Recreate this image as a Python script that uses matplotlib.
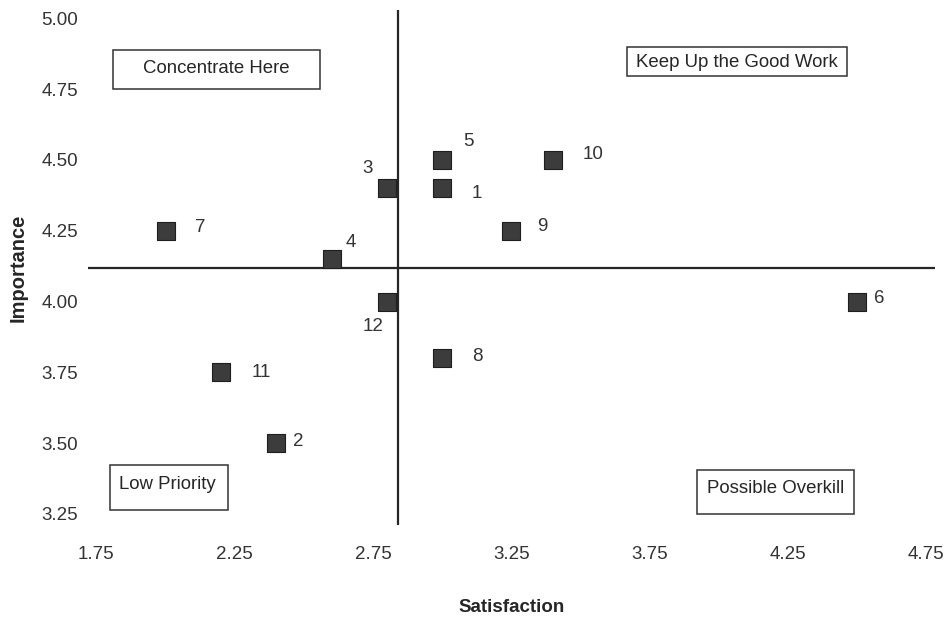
import matplotlib.pyplot as plt
from matplotlib.patches import Rectangle

plt.rcParams['font.family'] = ['Liberation Sans', 'DejaVu Sans']

# data
items = ["1", "2", "3", "4", "5", "6", "7", "8", "9", "10", "11", "12"]
satisfaction = [3.0, 2.4, 2.8, 2.6, 3.0, 4.5, 2.0, 3.0, 3.25, 3.4, 2.2, 2.8]
importance = [4.4, 3.5, 4.4, 4.15, 4.5, 4.0, 4.25, 3.8, 4.25, 4.5, 3.75, 4.0]
sat_split = 2.84
imp_split = 4.12
xticks = [1.75, 2.25, 2.75, 3.25, 3.75, 4.25, 4.75]
yticks = [3.25, 3.50, 3.75, 4.00, 4.25, 4.50, 4.75, 5.00]
quadrant_names = ["Concentrate Here", "Keep Up the Good Work", "Low Priority", "Possible Overkill"]

# label offsets in points (layout only)
offsets = {"1": (25, -4), "2": (16, 1), "3": (-14, 14), "4": (14, 12),
           "5": (19, 13), "6": (16, 2), "7": (25, 2), "8": (25, 1),
           "9": (22, 3), "10": (29, 4), "11": (29, 0), "12": (-10, -18)}

# quadrant boxes: (x0, x1, y0, y1) and text anchor
box_pos = [(1.810, 2.558, 4.751, 4.889, 2.182, 4.822),
           (3.667, 4.462, 4.797, 4.899, 4.065, 4.846),
           (1.800, 2.226, 3.263, 3.422, 2.005, 3.355),
           (3.920, 4.487, 3.249, 3.404, 4.206, 3.341)]

fig = plt.figure(figsize=(9.47, 6.2), dpi=100)
ax = fig.add_axes([0.093, 0.153, 0.894, 0.831])

ax.axvline(sat_split, color='#262626', lw=1.6, zorder=1)
ax.axhline(imp_split, color='#262626', lw=1.6, zorder=1)

ax.scatter(satisfaction, importance, marker='s', s=150, color='#3c3c3c',
           edgecolors='#1e1e1e', linewidths=0.8, zorder=3)

for name, x, y in zip(items, satisfaction, importance):
    ax.annotate(name, (x, y), xytext=offsets[name], textcoords='offset points',
                ha='center', va='center', fontsize=13.5, color='#333333')

for name, (x0, x1, y0, y1, tx, ty) in zip(quadrant_names, box_pos):
    ax.add_patch(Rectangle((x0, y0), x1 - x0, y1 - y0, fill=False,
                           ec='#333333', lw=1.1, zorder=2))
    ax.text(tx, ty, name, ha='center', va='center', fontsize=13.4, color='#262626')

ax.set_xlim(1.72, 4.78)
ax.set_ylim(3.21, 5.03)
ax.set_xticks(xticks)
ax.set_xticklabels([f"{t:.2f}" for t in xticks])
ax.set_yticks(yticks)
ax.set_yticklabels([f"{t:.2f}" for t in yticks])
ax.tick_params(axis='both', length=0, labelsize=13.5, colors='#333333')
ax.tick_params(axis='x', pad=15)
ax.tick_params(axis='y', pad=7)
for s in ax.spines.values():
    s.set_visible(False)

ax.set_xlabel("Satisfaction", fontsize=13.5, fontweight='bold', color='#262626', labelpad=26)
ax.set_ylabel("Importance", fontsize=14.5, fontweight='bold', color='#262626', labelpad=10)

fig.savefig("out.png", dpi=100)
